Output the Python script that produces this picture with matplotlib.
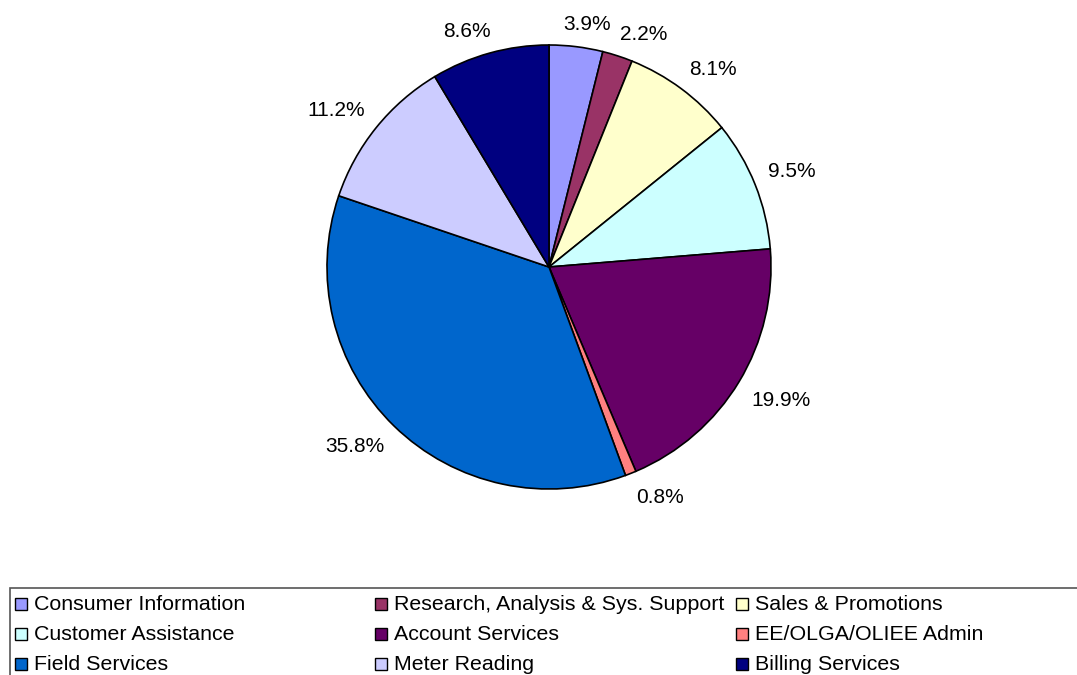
import matplotlib
matplotlib.use("Agg")
import numpy as np
import matplotlib.pyplot as plt
from matplotlib.patches import Rectangle

plt.rcParams['font.family'] = ['Liberation Sans', 'DejaVu Sans']

categories = ["Consumer Information", "Research, Analysis & Sys. Support", "Sales & Promotions",
              "Customer Assistance", "Account Services", "EE/OLGA/OLIEE Admin",
              "Field Services", "Meter Reading", "Billing Services"]
values = [3.9, 2.2, 8.1, 9.5, 19.9, 0.8, 35.8, 11.2, 8.6]
colors = ["#9999FF", "#993366", "#FFFFCC", "#CCFFFF", "#660066", "#FF8080",
          "#0066CC", "#CCCCFF", "#000080"]

W, H = 1077, 675
fig = plt.figure(figsize=(W / 100, H / 100), dpi=100)

cx, cy, r = 549, 267, 222
ax = fig.add_axes([(cx - r) / W, (H - cy - r) / H, 2 * r / W, 2 * r / H])
wedges, texts = ax.pie(values, colors=colors, startangle=90, counterclock=False, radius=1,
                       wedgeprops=dict(edgecolor='black', linewidth=1.2))
ax.set_xlim(-1, 1)
ax.set_ylim(-1, 1)
ax.set_aspect('equal')
ax.axis('off')

renderer = fig.canvas.get_renderer()
gap = 14  # px beyond the rim
for w, v in zip(wedges, values):
    th = np.deg2rad((w.theta1 + w.theta2) / 2)
    t = ax.text(0, 0, f"{v:.1f}%", fontsize=15, ha='center', va='center')
    bb = t.get_window_extent(renderer)
    tw, th_px = bb.width, bb.height
    c, s = np.cos(th), np.sin(th)
    ox = tw / 2 * np.sign(c) * min(1, abs(c) * 3)
    oy = th_px / 2 * np.sign(s) * min(1, abs(s) * 3)
    x = ((r + gap) * c + ox) / r
    y = ((r + gap) * s + oy - 1.5) / r
    t.set_position((x, y))

def fx(x):
    return x / W

def fy(y):
    return 1 - y / H

# legend box
box = Rectangle((fx(10), fy(700)), fx(1100) - fx(10), fy(588) - fy(700),
                transform=fig.transFigure, facecolor='white', edgecolor='#555555',
                linewidth=1.2, clip_on=False)
fig.patches.append(box)

col_x = [15, 375, 736]
row_y = [604, 634, 664]
for i, (cat, col) in enumerate(zip(categories, colors)):
    rr, cc = divmod(i, 3)
    mx, my = col_x[cc], row_y[rr]
    sq = Rectangle((fx(mx), fy(my + 6)), 12 / W, 12 / H, transform=fig.transFigure,
                   facecolor=col, edgecolor='black', linewidth=1.0)
    fig.patches.append(sq)
    fig.text(fx(mx + 19), fy(my), cat, fontsize=15.4, va='center', ha='left')

fig.savefig("out.png", dpi=100)
